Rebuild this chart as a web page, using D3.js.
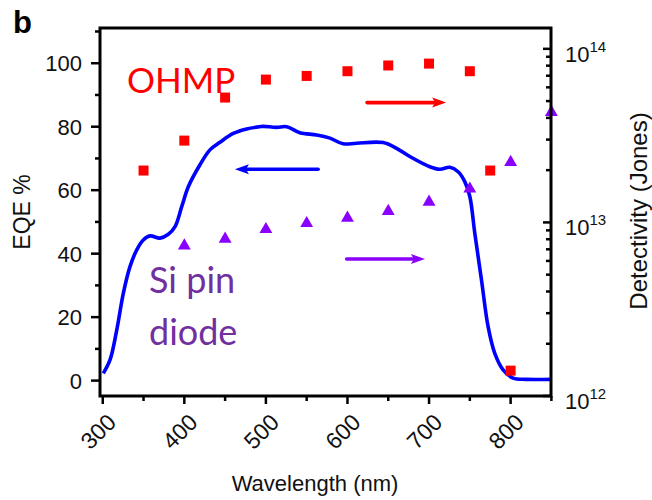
<!DOCTYPE html>
<html><head><meta charset="utf-8">
<script src="https://cdn.jsdelivr.net/npm/d3@7"></script>
<style>
html,body{margin:0;padding:0;background:#fff;}
svg{display:block;}
</style></head>
<body>
<svg id="chart" width="652" height="500" font-family="Liberation Sans, Arial, sans-serif"></svg>
<script>
// ---- data ----
const eqeWavelength = [300.7,308.9,317.2,325.2,333.4,341.7,349.7,357.9,370.2,380.4,388.6,396.8,404.9,419.2,431.4,443.7,460.0,476.4,492.7,496.7,513.2,525.4,541.7,562.2,578.5,594.7,611.2,643.7,660.2,676.4,700.9,713.2,725.5,735.6,743.8,750.0,756.1,764.3,772.4,780.6,790.8,803.0,819.4,850];
const eqeValues = [2.3,6.5,16.0,27.5,35.9,41.2,44.3,45.6,44.9,46.1,48.5,54.8,61.1,68.0,72.7,75.1,77.9,79.3,80.0,80.1,79.8,80.0,78.1,77.4,76.4,74.6,74.8,75.0,73.2,70.6,67.4,66.6,67.2,65.8,62.7,58.0,46.4,31.7,17.0,8.6,3.4,0.8,0.4,0.4];
const ohmpWavelength = [350,400,450,500,550,600,650,700,750,775,800];
const ohmpDetectivity = [1.99e13,2.96e13,5.24e13,6.65e13,6.98e13,7.43e13,8.02e13,8.22e13,7.43e13,1.99e13,1.40e12];
const siWavelength = [400,450,500,550,600,650,700,750,800,850];
const siDetectivity = [7.34e12,8.02e12,9.12e12,9.87e12,1.06e13,1.16e13,1.31e13,1.56e13,2.22e13,4.31e13];
const xTicks = [300,400,500,600,700,800];
const xMinorTicks = [350,450,550,650,750,850];
const yTicks = [0,20,40,60,80,100];
const yMinorTicks = [10,30,50,70,90,110];
const rTicks = [1e12,1e13,1e14];
const rTickExp = ["12","13","14"];
// arrows [x1, x2, eqe-level]
const arrowBlue = [564, 462, 66.6];
const arrowRed = [624, 721, 87.6];
const arrowPurple = [599, 695, 38.3];

// ---- layout ----
const svg = d3.select("#chart");
const L = 100, R = 551, T = 28, B = 396;
const x = d3.scaleLinear().domain([297, 850]).range([100.3, 551.4]);
const y = d3.scaleLinear().domain([-4.85, 111.1]).range([B, T]);
const yr = d3.scaleLog().domain([1e12, Math.pow(10, 14.12)]).range([B, T]);

const BLUE = "#0000ff", RED = "#ff0000", VIOLET = "#8a00ff", TXTPURPLE = "#7030a0";
const LABELFONT = "Lato, 'Noto Sans', sans-serif";

// curve
const line = d3.line().x((d,i)=>x(eqeWavelength[i])).y((d,i)=>y(eqeValues[i])).curve(d3.curveCatmullRom.alpha(0.5));
svg.append("path").datum(eqeValues).attr("d", line)
  .attr("fill","none").attr("stroke",BLUE).attr("stroke-width",3.6).attr("stroke-linejoin","round");

// squares
svg.append("g").selectAll("rect").data(ohmpDetectivity).join("rect")
  .attr("x",(d,i)=>x(ohmpWavelength[i])-5).attr("y",d=>yr(d)-5)
  .attr("width",10).attr("height",10).attr("fill",RED);

// triangles
const tri = d3.symbol().type(d3.symbolTriangle).size(72);
svg.append("g").selectAll("path").data(siDetectivity).join("path")
  .attr("d",tri).attr("transform",(d,i)=>`translate(${x(siWavelength[i])},${yr(d)})`)
  .attr("fill",VIOLET);

// arrows
function arrow(a, color){
  const x1 = x(a[0]), x2 = x(a[1]), yy = y(a[2]);
  const dir = x2 > x1 ? 1 : -1;
  const hl = 14, hw = 5;
  svg.append("line").attr("x1",x1).attr("x2",x2 - dir*hl*0.6).attr("y1",yy).attr("y2",yy)
    .attr("stroke",color).attr("stroke-width",3.6).attr("stroke-linecap","round");
  svg.append("path").attr("d",`M${x2},${yy}L${x2-dir*hl},${yy-hw}L${x2-dir*hl*0.8},${yy}L${x2-dir*hl},${yy+hw}Z`)
    .attr("fill",color);
}
arrow(arrowBlue, BLUE);
arrow(arrowRed, RED);
arrow(arrowPurple, VIOLET);

// frame
svg.append("rect").attr("x",L).attr("y",T).attr("width",R-L).attr("height",B-T)
  .attr("fill","none").attr("stroke","#000").attr("stroke-width",3);

// bottom axis ticks
const ax = svg.append("g");
ax.selectAll("line.maj").data(xTicks).join("line").attr("class","maj")
  .attr("x1",d=>x(d)).attr("x2",d=>x(d)).attr("y1",B).attr("y2",B+8).attr("stroke","#000").attr("stroke-width",2.5);
ax.selectAll("line.min").data(xMinorTicks).join("line").attr("class","min")
  .attr("x1",d=>x(d)).attr("x2",d=>x(d)).attr("y1",B).attr("y2",B+5).attr("stroke","#000").attr("stroke-width",2.5);
ax.selectAll("text").data(xTicks).join("text")
  .attr("transform",d=>`translate(${x(d)+9},${B+22}) rotate(-45)`)
  .attr("text-anchor","end").attr("dy","0.35em").attr("font-size",23).attr("fill","#111")
  .text(d=>d);

// left axis
const ay = svg.append("g");
ay.selectAll("line.maj").data(yTicks).join("line").attr("class","maj")
  .attr("x1",L-9).attr("x2",L).attr("y1",d=>y(d)).attr("y2",d=>y(d)).attr("stroke","#000").attr("stroke-width",2.5);
ay.selectAll("line.min").data(yMinorTicks).join("line").attr("class","min")
  .attr("x1",L-5).attr("x2",L).attr("y1",d=>y(d)).attr("y2",d=>y(d)).attr("stroke","#000").attr("stroke-width",2.5);
ay.selectAll("text").data(yTicks).join("text")
  .attr("x",L-18).attr("y",d=>y(d)).attr("dy","0.36em").attr("text-anchor","end")
  .attr("font-size",22).attr("fill","#111").text(d=>d);

// right axis (log, inward ticks)
const ar = svg.append("g");
const minorR = [];
[1e12,1e13].forEach(b=>{for(let k=2;k<=9;k++) minorR.push(b*k);});
ar.selectAll("line.maj").data(rTicks).join("line").attr("class","maj")
  .attr("x1",R-8).attr("x2",R).attr("y1",d=>yr(d)).attr("y2",d=>yr(d)).attr("stroke","#000").attr("stroke-width",2.5);
ar.selectAll("line.min").data(minorR).join("line").attr("class","min")
  .attr("x1",R-5).attr("x2",R).attr("y1",d=>yr(d)).attr("y2",d=>yr(d)).attr("stroke","#000").attr("stroke-width",2.5);
const rt = ar.selectAll("text").data(rTicks).join("text")
  .attr("x",R+14).attr("y",d=>yr(d)+13).attr("font-size",22).attr("fill","#111");
rt.append("tspan").text("10");
rt.append("tspan").attr("dy",-10).attr("font-size",15).text((d,i)=>rTickExp[i]);

// titles
svg.append("text").attr("x",315).attr("y",491).attr("text-anchor","middle").attr("font-size",22).attr("fill","#111").text("Wavelength (nm)");
svg.append("text").attr("transform","translate(30,212) rotate(-90)").attr("text-anchor","middle").attr("font-size",23).attr("fill","#111").text("EQE %");
svg.append("text").attr("transform","translate(647,211) rotate(-90)").attr("text-anchor","middle").attr("font-size",24).attr("fill","#111").text("Detectivity (Jones)");
svg.append("text").attr("x",13).attr("y",33).attr("font-size",31).attr("font-weight","bold").attr("fill","#000").text("b");

// labels
svg.append("text").attr("x",127).attr("y",93).style("font-family",LABELFONT).attr("font-size",35).attr("fill",RED).text("OHMP");
svg.append("text").attr("x",149).attr("y",293).style("font-family",LABELFONT).attr("font-size",36).attr("fill",TXTPURPLE).text("Si pin");
svg.append("text").attr("x",149).attr("y",345).style("font-family",LABELFONT).attr("font-size",36).attr("fill",TXTPURPLE).text("diode");
</script>
</body></html>
